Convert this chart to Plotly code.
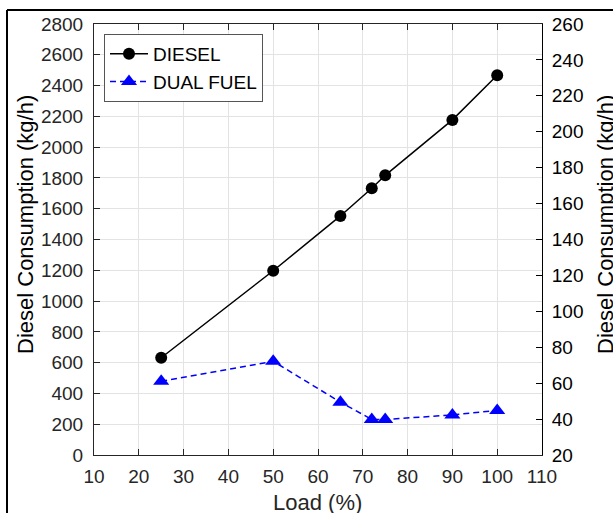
import plotly.graph_objects as go

load_pct = [25, 50, 65, 72, 75, 90, 100]
diesel = [632, 1197, 1553, 1733, 1817, 2177, 2467]
dual_fuel = [61.0, 72.2, 49.4, 39.8, 39.8, 42.3, 44.8]

x_ticks = list(range(10, 111, 10))
y_left_ticks = list(range(0, 2801, 200))
y_right_ticks = list(range(20, 261, 20))

FONT = "Liberation Sans, Arial, Helvetica, sans-serif"
DARK = "#262626"

fig = go.Figure()
fig.add_trace(go.Scatter(
    x=load_pct, y=diesel, name="DIESEL", mode="lines+markers",
    line=dict(color="black", width=1.5),
    marker=dict(symbol="circle", size=12, color="black"),
    yaxis="y"))
fig.add_trace(go.Scatter(
    x=load_pct, y=dual_fuel, name="DUAL FUEL", mode="lines+markers",
    line=dict(color="#0000ff", width=1.5, dash="6px,4px"),
    marker=dict(symbol="triangle-up", size=14, color="#0000ff"),
    yaxis="y2"))

L, R, T, B = 94, 71, 24, 58
W, H = 613, 513
pw, ph = W - L - R, H - T - B

def px(xp):
    return (xp - L) / pw

def py(yp):
    return (H - B - yp) / ph

fig.update_layout(
    width=W, height=H,
    margin=dict(l=L, r=R, t=T, b=B, pad=0),
    paper_bgcolor="white", plot_bgcolor="white",
    font=dict(family=FONT, size=19, color=DARK),
    showlegend=True,
    legend=dict(
        x=px(104), y=py(34), xanchor="left", yanchor="top",
        bgcolor="white", bordercolor="#555555", borderwidth=1,
        font=dict(family=FONT, size=19, color="black"),
        itemwidth=38, tracegroupgap=0),
    xaxis=dict(
        range=[10, 110], tickvals=x_ticks, ticktext=[str(v) for v in x_ticks],
        showgrid=True, gridcolor="#e3e3e3", gridwidth=1,
        showline=True, linecolor=DARK, linewidth=1, mirror="ticks",
        ticks="inside", ticklen=6, tickcolor=DARK,
        tickfont=dict(family=FONT, size=19, color=DARK),
        ticklabelstandoff=4, zeroline=False),
    yaxis=dict(
        range=[0, 2800], tickvals=y_left_ticks, ticktext=[str(v) for v in y_left_ticks],
        showgrid=True, gridcolor="#e3e3e3", gridwidth=1,
        showline=True, linecolor=DARK, linewidth=1,
        ticks="inside", ticklen=6, tickcolor=DARK,
        tickfont=dict(family=FONT, size=19, color=DARK),
        ticklabelstandoff=6, zeroline=False),
    yaxis2=dict(
        range=[20, 260], tickvals=y_right_ticks, ticktext=[str(v) for v in y_right_ticks],
        overlaying="y", side="right", showgrid=False,
        showline=True, linecolor="black", linewidth=1,
        ticks="inside", ticklen=6, tickcolor="black",
        tickfont=dict(family=FONT, size=19, color="black"),
        ticklabelstandoff=5, zeroline=False),
    annotations=[
        dict(text="Diesel Consumption (kg/h)", textangle=-90, xref="paper", yref="paper",
             x=px(25), y=py(225), xanchor="center", yanchor="middle", showarrow=False,
             font=dict(family=FONT, size=22, color="black")),
        dict(text="Diesel Consumption (kg/h)", textangle=-90, xref="paper", yref="paper",
             x=px(605), y=py(225), xanchor="center", yanchor="middle", showarrow=False,
             font=dict(family=FONT, size=22, color="black")),
        dict(text="Load (%)", xref="paper", yref="paper",
             x=px(317.5), y=py(502), xanchor="center", yanchor="middle", showarrow=False,
             font=dict(family=FONT, size=22, color=DARK)),
    ],
    shapes=[
        dict(type="line", xref="paper", yref="paper", x0=px(7), x1=px(640), y0=py(10), y1=py(10),
             line=dict(color="black", width=2)),
        dict(type="line", xref="paper", yref="paper", x0=px(7), x1=px(7), y0=py(10), y1=py(540),
             line=dict(color="black", width=2)),
    ],
)

fig.write_html("out.html")
